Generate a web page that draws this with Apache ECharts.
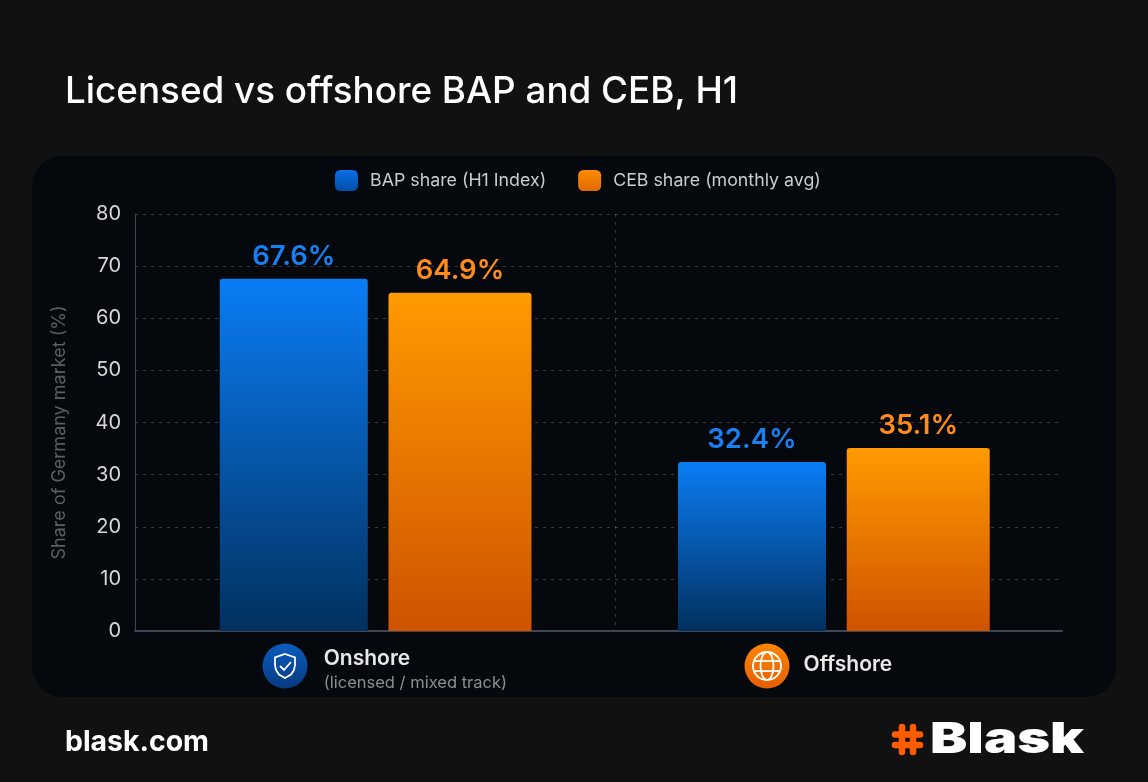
<!DOCTYPE html>
<html><head><meta charset="utf-8">
<style>html,body{margin:0;padding:0;background:#111111}#c{width:1148px;height:782px}</style>
<script src="https://cdn.jsdelivr.net/npm/echarts@6/dist/echarts.min.js"></script>
</head><body><div id="c"></div>
<script>
const categories = ['Onshore', 'Offshore'];
const subtitle = '(licensed / mixed track)';
const bapName = 'BAP share (H1 Index)';
const cebName = 'CEB share (monthly avg)';
const bapValues = [67.6, 32.4];
const cebValues = [64.9, 35.1];
const yTicks = {min: 0, max: 80, interval: 10};

const FONT = 'Inter';
const vg = (a, b) => new echarts.graphic.LinearGradient(0, 0, 0, 1, [{offset: 0, color: a}, {offset: 1, color: b}]);
const chart = echarts.init(document.getElementById('c'), null, {renderer: 'canvas'});
const shieldPts = [[285,654],[295,657.5],[295,665],[294,670],[291,674.5],[285,678],[279,674.5],[276,670],[275,665],[275,657.5]];
const iconStroke = {stroke: '#ffffff', fill: 'none', lineWidth: 1.8};
chart.setOption({
  backgroundColor: '#111111',
  animation: false,
  textStyle: {fontFamily: FONT},
  title: {text: 'Licensed vs offshore BAP and CEB, H1', left: 60, top: 68,
    textStyle: {color: '#ffffff', fontSize: 36.8, fontWeight: 500, fontFamily: FONT}},
  legend: {
    top: 165, left: 330, itemWidth: 23, itemHeight: 21, itemGap: 32,
    icon: 'roundRect',
    textStyle: {color: '#c9ccd0', fontSize: 17.8, fontFamily: FONT, padding: [0, 0, 0, 7]},
    data: [
      {name: bapName, itemStyle: {color: vg('#0a6fe6', '#034ea6')}},
      {name: cebName, itemStyle: {color: vg('#ff8c00', '#e06a00')}}
    ]
  },
  grid: [
    {left: 135, right: 86, top: 214, bottom: 151},
    {left: 146.5, right: 85, top: 214, bottom: 151}
  ],
  xAxis: [
    {type: 'category', gridIndex: 0, data: categories,
     axisLine: {lineStyle: {color: '#3d4656', width: 2}}, axisTick: {show: false}, axisLabel: {show: false}},
    {type: 'category', gridIndex: 1,
     data: [
       {value: categories[0], textStyle: {padding: [1, 0, 0, 79.5]}},
       {value: categories[1], textStyle: {padding: [7, 0, 0, 28]}}
     ],
     axisLine: {show: false}, axisTick: {show: false},
     axisLabel: {
       margin: 14, interval: 0,
       formatter: v => v === categories[0] ? `{name|${v}}\n{sub|${subtitle}}` : `{name|${v}}`,
       rich: {
         name: {color: '#e8e8e8', fontSize: 21, fontWeight: 600, fontFamily: FONT, align: 'left', height: 26, lineHeight: 26},
         sub: {color: '#8b8f94', fontSize: 16.5, fontFamily: FONT, align: 'left', height: 22, lineHeight: 22}
       }
     }}
  ],
  yAxis: [
    {type: 'value', gridIndex: 0, ...yTicks,
     name: 'Share of Germany market (%)', nameLocation: 'middle', nameGap: 66, nameRotate: 90,
     nameTextStyle: {color: '#5b5f64', fontSize: 18, fontFamily: FONT, padding: [0, 20, 0, 0]},
     axisLine: {show: true, lineStyle: {color: '#3d4656', width: 1}}, axisTick: {show: false},
     axisLabel: {color: '#d8d8d8', fontSize: 20, margin: 14, fontFamily: FONT, padding: [5, 0, 0, 0]},
     splitLine: {show: true, lineStyle: {color: 'rgba(255,255,255,0.2)', type: [3, 5], width: 1}}},
    {type: 'value', gridIndex: 1, ...yTicks, show: false, splitLine: {show: false}}
  ],
  series: [
    {name: bapName, type: 'bar', xAxisIndex: 1, yAxisIndex: 1, data: bapValues, barWidth: 148, barGap: '14%',
     itemStyle: {color: vg('#0a7df5', '#02305f'), borderRadius: [3, 3, 0, 0]},
     label: {show: true, position: 'top', distance: 8, formatter: '{c}%', color: '#1a7ff0', fontSize: 27.5, fontWeight: 600, fontFamily: FONT}},
    {name: cebName, type: 'bar', xAxisIndex: 1, yAxisIndex: 1, data: cebValues, barWidth: 143,
     itemStyle: {color: vg('#ff9a00', '#cf5300'), borderRadius: [3, 3, 0, 0]},
     label: {show: true, position: 'top', distance: 8, formatter: '{c}%', color: '#ff8c1a', fontSize: 27.5, fontWeight: 600, fontFamily: FONT}}
  ],
  graphic: [
    {type: 'rect', z: -10, silent: true, shape: {x: 32, y: 156, width: 1084, height: 541, r: 30}, style: {fill: '#05080c'}},
    {type: 'line', z: 1, silent: true, shape: {x1: 615.5, y1: 214, x2: 615.5, y2: 630}, style: {stroke: 'rgba(255,255,255,0.2)', lineDash: [3, 5], lineWidth: 1}},
    // Onshore icon
    {type: 'circle', z: 5, silent: true, shape: {cx: 285, cy: 666, r: 22.5}, style: {fill: vg('#0b5cbf', '#073a80')}},
    {type: 'polygon', z: 6, silent: true, shape: {points: shieldPts}, style: iconStroke},
    {type: 'polyline', z: 6, silent: true, shape: {points: [[280, 666], [284, 670], [291, 662]]}, style: iconStroke},
    // Offshore icon
    {type: 'circle', z: 5, silent: true, shape: {cx: 767, cy: 666, r: 22.5}, style: {fill: vg('#ff8500', '#e55f00')}},
    {type: 'circle', z: 6, silent: true, shape: {cx: 767, cy: 666, r: 14}, style: iconStroke},
    {type: 'ellipse', z: 6, silent: true, shape: {cx: 767, cy: 666, rx: 6.5, ry: 14}, style: iconStroke},
    {type: 'line', z: 6, silent: true, shape: {x1: 754.5, y1: 661, x2: 779.5, y2: 661}, style: iconStroke},
    {type: 'line', z: 6, silent: true, shape: {x1: 754.5, y1: 671, x2: 779.5, y2: 671}, style: iconStroke},
    // Footer
    {type: 'text', z: 6, silent: true, x: 65, y: 742, style: {text: 'blask.com', fill: '#ffffff', font: '700 28.4px Inter', verticalAlign: 'middle'}},
    {type: 'line', z: 6, silent: true, shape: {x1: 902, y1: 727, x2: 902, y2: 752}, style: {stroke: '#ff5c00', lineWidth: 6.5, lineCap: 'round'}},
    {type: 'line', z: 6, silent: true, shape: {x1: 913, y1: 727, x2: 913, y2: 752}, style: {stroke: '#ff5c00', lineWidth: 6.5, lineCap: 'round'}},
    {type: 'line', z: 6, silent: true, shape: {x1: 895, y1: 734.5, x2: 920, y2: 734.5}, style: {stroke: '#ff5c00', lineWidth: 6.5, lineCap: 'round'}},
    {type: 'line', z: 6, silent: true, shape: {x1: 895, y1: 745, x2: 920, y2: 745}, style: {stroke: '#ff5c00', lineWidth: 6.5, lineCap: 'round'}},
    {type: 'text', z: 6, silent: true, x: 930, y: 740.5, scaleX: 1.3, style: {text: 'Blask', fill: '#ffffff', font: '900 43px Inter', verticalAlign: 'middle'}}
  ]
});
</script></body></html>
